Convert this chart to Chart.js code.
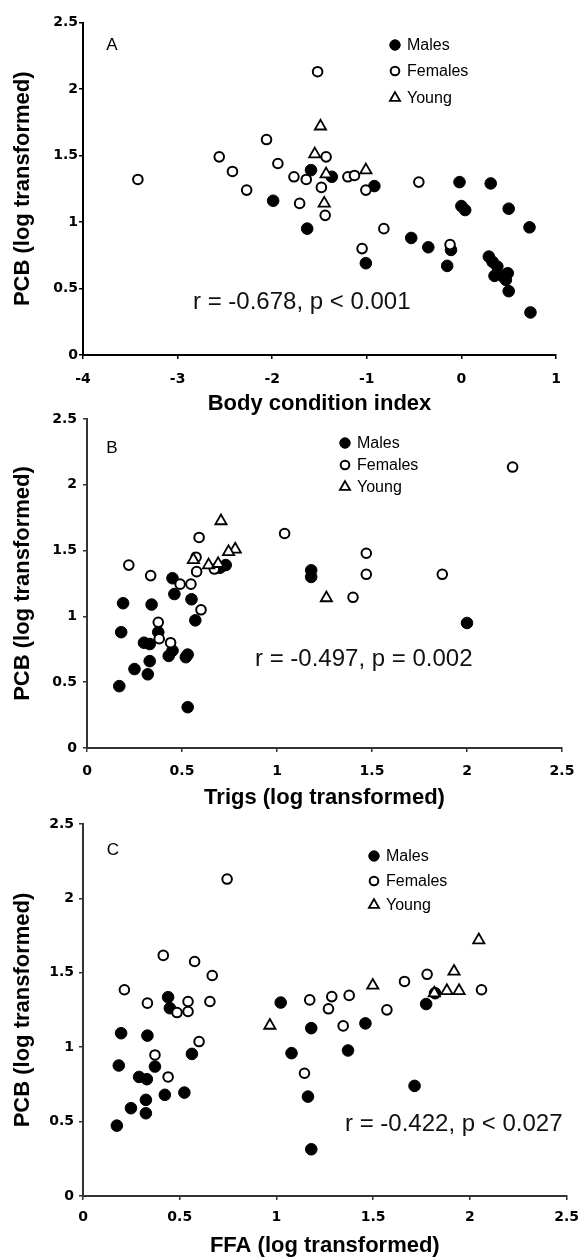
<!DOCTYPE html>
<html>
<head>
<meta charset="utf-8">
<script src="https://cdn.jsdelivr.net/npm/chart.js@4.4.1/dist/chart.umd.min.js"></script>
<style>
  html, body { margin: 0; padding: 0; background: #fff; }
  body { width: 588px; height: 1260px; position: relative; overflow: hidden; }
  canvas { position: absolute; left: 0; }
</style>
</head>
<body>
<canvas id="panelA" width="588" height="420" style="top:0px"></canvas>
<canvas id="panelB" width="588" height="420" style="top:400px"></canvas>
<canvas id="panelC" width="588" height="455" style="top:805px"></canvas>
<script>
// ---- data: PCB (log transformed) against three body measures ----
const groups = ['Males', 'Females', 'Young'];

// Panel A: body condition index
const bciMales = [[-1.99,1.16],[-1.63,0.95],[-1.59,1.39],[-1.37,1.34],[-0.92,1.27],[-1.01,0.69],[-0.53,0.88],[-0.35,0.81],[-0.11,0.79],[-0.15,0.67],[-0.02,1.30],[0.00,1.12],[0.04,1.09],[0.31,1.29],[0.50,1.10],[0.72,0.96],[0.73,0.32],[0.50,0.48],[0.29,0.74],[0.33,0.70],[0.38,0.665],[0.35,0.595],[0.44,0.59],[0.49,0.615],[0.47,0.565]];
const bciFemales = [[-3.42,1.32],[-2.56,1.49],[-2.42,1.38],[-2.27,1.24],[-2.06,1.62],[-1.94,1.44],[-1.77,1.34],[-1.71,1.14],[-1.64,1.32],[-1.52,2.13],[-1.48,1.26],[-1.43,1.49],[-1.44,1.05],[-1.20,1.34],[-1.13,1.35],[-1.01,1.24],[-1.05,0.80],[-0.82,0.95],[-0.45,1.30],[-0.12,0.83]];
const bciYoung = [[-1.49,1.72],[-1.55,1.51],[-1.43,1.36],[-1.45,1.14],[-1.01,1.39]];

// Panel B: triglycerides
const trigMales = [[0.17,0.47],[0.18,0.88],[0.19,1.10],[0.25,0.60],[0.30,0.80],[0.33,0.79],[0.33,0.66],[0.32,0.56],[0.34,1.09],[0.375,0.88],[0.43,0.70],[0.45,0.74],[0.45,1.29],[0.46,1.17],[0.52,0.69],[0.53,0.71],[0.53,0.31],[0.55,1.13],[0.57,0.97],[0.70,1.37],[0.73,1.39],[1.18,1.35],[1.18,1.30],[2.00,0.95]];
const trigFemales = [[0.22,1.39],[0.335,1.31],[0.375,0.955],[0.38,0.83],[0.44,0.80],[0.49,1.245],[0.547,1.245],[0.577,1.34],[0.574,1.45],[0.59,1.60],[0.60,1.05],[0.67,1.36],[1.04,1.63],[1.40,1.145],[1.47,1.48],[1.47,1.32],[1.87,1.32],[2.24,2.135]];
const trigYoung = [[0.705,1.725],[0.78,1.51],[0.745,1.49],[0.56,1.43],[0.64,1.39],[0.69,1.40],[1.26,1.14]];

// Panel C: free fatty acids
const ffaMales = [[0.175,0.473],[0.185,0.877],[0.197,1.094],[0.248,0.59],[0.29,0.80],[0.33,0.785],[0.325,0.646],[0.325,0.556],[0.333,1.078],[0.372,0.87],[0.423,0.68],[0.44,1.336],[0.449,1.262],[0.524,0.695],[0.563,0.955],[1.022,1.30],[1.078,0.96],[1.18,1.128],[1.163,0.668],[1.18,0.314],[1.37,0.978],[1.46,1.16],[1.714,0.74],[1.774,1.29],[1.82,1.363]];
const ffaFemales = [[0.214,1.386],[0.333,1.296],[0.372,0.948],[0.415,1.617],[0.44,0.80],[0.486,1.233],[0.543,1.307],[0.543,1.24],[0.577,1.576],[0.60,1.038],[0.656,1.307],[0.668,1.482],[0.745,2.13],[1.145,0.825],[1.172,1.318],[1.269,1.258],[1.286,1.34],[1.345,1.143],[1.376,1.348],[1.571,1.251],[1.662,1.442],[1.779,1.49],[2.06,1.386]];
const ffaYoung = [[0.966,1.146],[1.498,1.415],[1.816,1.363],[1.881,1.379],[1.944,1.379],[1.918,1.509],[2.046,1.72]];

// axis ticks
const bciTicks = [-4, -3, -2, -1, 0, 1];
const logTicks = [0, 0.5, 1, 1.5, 2, 2.5];
const pcbTicks = [0, 0.5, 1, 1.5, 2, 2.5];

// texts
const panelLetters = ['A', 'B', 'C'];
const xTitles = ['Body condition index', 'Trigs (log transformed)', 'FFA (log transformed)'];
const yTitle = 'PCB (log transformed)';
const statLines = ['r = -0.678, p < 0.001', 'r = -0.497, p = 0.002', 'r = -0.422, p < 0.027'];

// ---- drawing ----
const SANS = "'Liberation Sans', Arial, sans-serif";
const TICKFONT = "'DejaVu Sans', 'Liberation Sans', sans-serif";

const markerStyles = [
  { pointStyle: 'circle',   radius: 5.8, fill: '#000', stroke: '#000', lw: 1 },
  { pointStyle: 'circle',   radius: 4.8, fill: '#fff', stroke: '#000', lw: 2 },
  { pointStyle: 'triangle', radius: 6.5, fill: '#fff', stroke: '#000', lw: 1.8 }
];

function drawMarker(ctx, style, x, y, r) {
  ctx.beginPath();
  if (style.pointStyle === 'circle') {
    ctx.arc(x, y, r, 0, Math.PI * 2);
  } else {
    for (let i = 0; i < 3; i++) {
      const a = i * 2 * Math.PI / 3;
      const px = x + Math.sin(a) * r, py = y - Math.cos(a) * r;
      if (i === 0) ctx.moveTo(px, py); else ctx.lineTo(px, py);
    }
    ctx.closePath();
  }
  ctx.fillStyle = style.fill;
  ctx.strokeStyle = style.stroke;
  ctx.lineWidth = style.lw;
  ctx.fill();
  ctx.stroke();
}

// panel letter, legend and correlation line
const panelDecor = {
  id: 'panelDecor',
  afterDraw(chart, args, o) {
    const ctx = chart.ctx;
    ctx.save();
    ctx.fillStyle = '#000';
    ctx.textBaseline = 'middle';
    ctx.textAlign = 'center';
    ctx.font = '17px ' + SANS;
    ctx.fillText(o.letter, o.letterX, o.letterY);

    ctx.textAlign = 'left';
    ctx.font = '16px ' + SANS;
    groups.forEach((g, i) => {
      const y = o.legendY[i];
      drawMarker(ctx, markerStyles[i], o.legendX, y, markerStyles[i].radius * 0.9);
      ctx.fillStyle = '#000';
      ctx.fillText(g, o.legendX + 12, y + 1);
    });

    ctx.textBaseline = 'alphabetic';
    ctx.font = '24px ' + SANS;
    ctx.fillStyle = '#111';
    ctx.fillText(o.stat, o.statX, o.statY);
    ctx.restore();
  }
};

function makePanel(id, idx, series, xr, xTicks, geo, deco) {
  const canvas = document.getElementById(id);
  const W = canvas.width, H = canvas.height;
  const datasets = series.map((pts, i) => ({
    label: groups[i],
    data: pts.map(([x, y]) => ({ x, y })),
    pointStyle: markerStyles[i].pointStyle,
    pointRadius: markerStyles[i].radius,
    pointHoverRadius: markerStyles[i].radius,
    backgroundColor: markerStyles[i].fill,
    borderColor: markerStyles[i].stroke,
    borderWidth: markerStyles[i].lw,
    order: 3 - i,
    clip: false
  }));
  const axisColor = geo.axisColor;
  return new Chart(canvas, {
    type: 'scatter',
    data: { datasets },
    plugins: [panelDecor],
    options: {
      responsive: false,
      animation: false,
      events: [],
      layout: { padding: { left: 0, top: geo.T, right: W - geo.R, bottom: 0 } },
      plugins: {
        legend: { display: false },
        tooltip: { enabled: false },
        panelDecor: deco
      },
      scales: {
        x: {
          type: 'linear', min: xr[0], max: xr[1],
          afterBuildTicks: s => { s.ticks = xTicks.map(v => ({ value: v })); },
          afterFit: s => { s.height = H - geo.B; },
          grid: { display: true, drawOnChartArea: false, drawTicks: true, tickLength: 4, color: axisColor, lineWidth: 1.5 },
          border: { display: true, color: axisColor, width: 2 },
          ticks: {
            color: '#000', padding: geo.xTickPad, maxRotation: 0, autoSkip: false,
            font: { family: TICKFONT, size: 14, weight: 'bold' },
            callback: v => String(v)
          },
          title: {
            display: true, text: xTitles[idx], color: '#000',
            font: { family: SANS, size: 22, weight: 'bold', lineHeight: 1 },
            padding: { top: 0, bottom: geo.xTitlePad }
          }
        },
        y: {
          type: 'linear', min: 0, max: 2.5,
          afterBuildTicks: s => { s.ticks = pcbTicks.map(v => ({ value: v })); },
          afterFit: s => { s.width = geo.L; },
          grid: { display: true, drawOnChartArea: false, drawTicks: true, tickLength: 4, color: axisColor, lineWidth: 1.5 },
          border: { display: true, color: axisColor, width: 2 },
          ticks: {
            color: '#000', padding: geo.yTickPad, autoSkip: false,
            font: { family: TICKFONT, size: 14, weight: 'bold' },
            callback: v => String(v)
          },
          title: {
            display: true, text: yTitle, color: '#000',
            font: { family: SANS, size: 22, weight: 'bold', lineHeight: 1 },
            padding: { top: 12, bottom: 0 }
          }
        }
      }
    }
  });
}

makePanel('panelA', 0, [bciMales, bciFemales, bciYoung], [-4, 1], bciTicks,
  { T: 22.5, B: 355, L: 83, R: 556, xTickPad: 12, yTickPad: 1, xTitlePad: 5, axisColor: '#000' },
  { letter: panelLetters[0], letterX: 112, letterY: 45, legendX: 395, legendY: [45, 71, 98],
    stat: statLines[0], statX: 193, statY: 308.5 });

makePanel('panelB', 1, [trigMales, trigFemales, trigYoung], [0, 2.5], logTicks,
  { T: 19, B: 348, L: 87, R: 562, xTickPad: 11, yTickPad: 6, xTitlePad: 11, axisColor: '#333' },
  { letter: panelLetters[1], letterX: 112, letterY: 48, legendX: 345, legendY: [43, 65, 87],
    stat: statLines[1], statX: 255, statY: 265.5 });

makePanel('panelC', 2, [ffaMales, ffaFemales, ffaYoung], [0, 2.5], logTicks,
  { T: 19, B: 391, L: 83, R: 573, xTickPad: 9, yTickPad: 5, xTitlePad: 3, axisColor: '#333' },
  { letter: panelLetters[2], letterX: 113, letterY: 45, legendX: 374, legendY: [51, 76, 100],
    stat: statLines[2], statX: 345, statY: 325.5 });
</script>
</body>
</html>
